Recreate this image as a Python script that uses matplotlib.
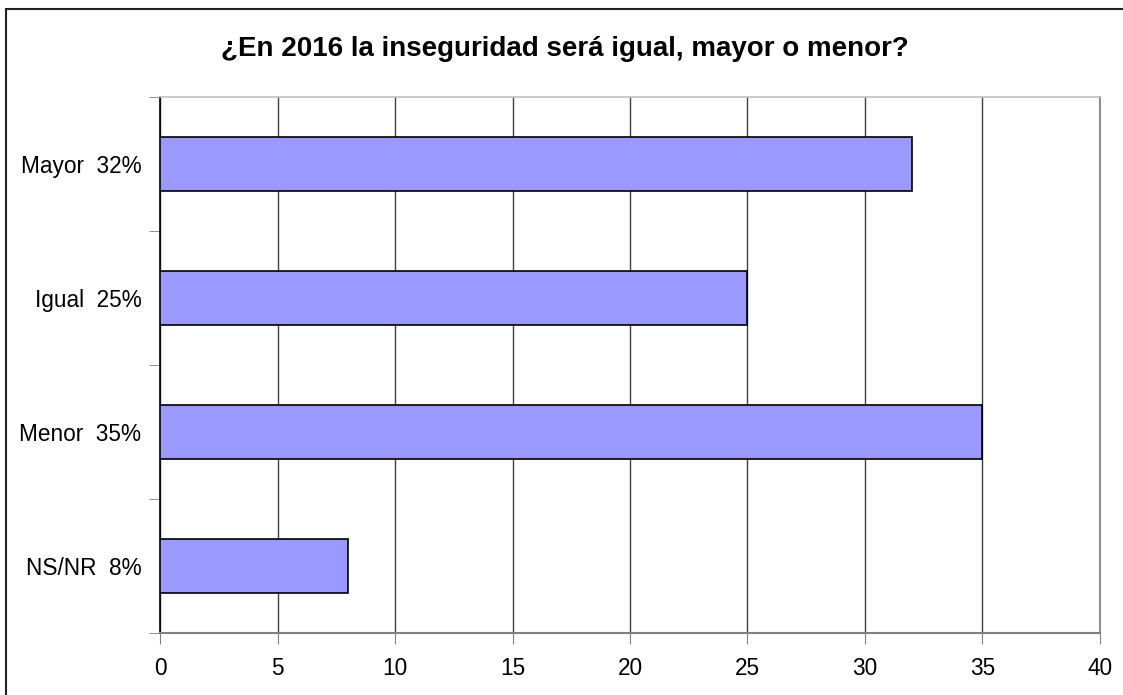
import matplotlib
matplotlib.use("Agg")
import matplotlib.pyplot as plt
from matplotlib.patches import Rectangle

plt.rcParams['font.family'] = ['Liberation Sans', 'DejaVu Sans']

# DATA
categories = ["Mayor  32%", "Igual  25%", "Menor  35%", "NS/NR  8%"]
values = [32, 25, 35, 8]
x_ticks = [0, 5, 10, 15, 20, 25, 30, 35, 40]
title = "¿En 2016 la inseguridad será igual, mayor o menor?"

fig = plt.figure(figsize=(11.23, 6.95), dpi=100)
ax = fig.add_axes([0.1425, 0.0892, 0.837, 0.7712])

pos = list(range(len(categories)))
ax.barh(pos, values, height=0.4, color="#9999FF", edgecolor="black",
        linewidth=1.2, zorder=3)

ax.set_xlim(0, 40)
ax.set_ylim(len(categories) - 0.5, -0.5)
ax.set_xticks(x_ticks)
ax.set_xticklabels([str(t) for t in x_ticks], fontsize=16.3)
ax.set_yticks(pos)
ax.set_yticklabels(categories, fontsize=16.3)
ax.set_yticks([p - 0.5 for p in pos] + [len(pos) - 0.5], minor=True)

ax.tick_params(axis="y", which="major", length=0, pad=13.5)
ax.tick_params(axis="y", which="minor", length=8, color="#808080",
               direction="out")
ax.tick_params(axis="x", which="major", length=8, color="#808080",
               direction="out", pad=9)

ax.grid(axis="x", color="#404040", linewidth=1, zorder=0)

ax.spines["left"].set_color("black")
ax.spines["left"].set_linewidth(1.2)
ax.spines["bottom"].set_color("#808080")
ax.spines["bottom"].set_linewidth(1.5)
ax.spines["right"].set_color("#909090")
ax.spines["right"].set_linewidth(1.5)
ax.spines["top"].set_color("#c0c0c0")
ax.spines["top"].set_linewidth(1.2)

fig.text(0.503, 0.929, title, ha="center", va="center",
         fontsize=20, fontweight="bold")

# outer frame (clipped on right/bottom like the source)
fig.patches.append(Rectangle((6 / 1123, -0.1), 1.2, 1.1 - 9 / 695,
                             transform=fig.transFigure, fill=False,
                             edgecolor="#222222", linewidth=1.5))

fig.savefig("out.png", dpi=100)
